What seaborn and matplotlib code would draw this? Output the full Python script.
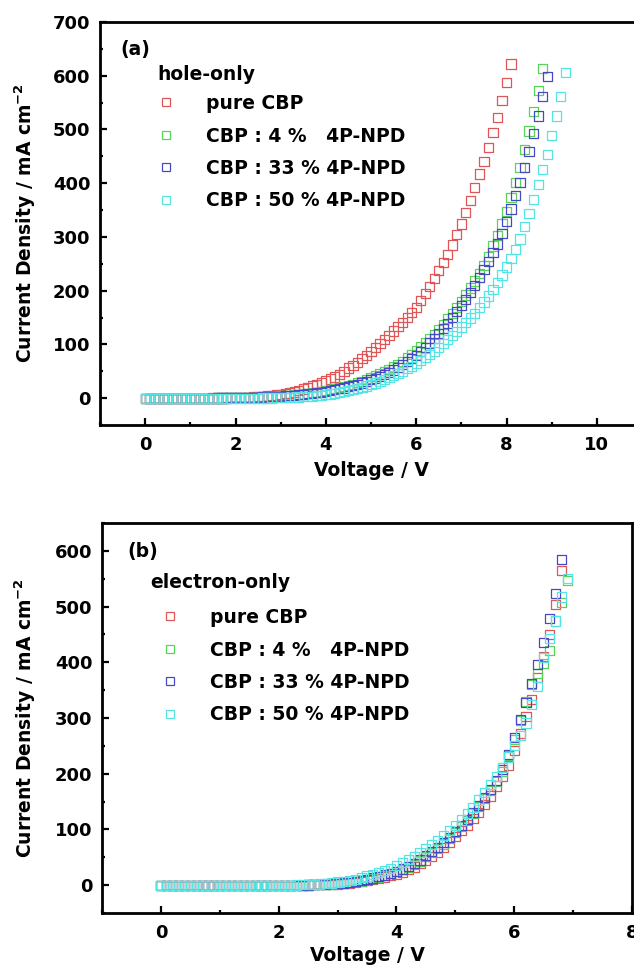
import matplotlib
matplotlib.use("Agg")
import matplotlib.pyplot as plt
import seaborn as sns
import pandas as pd
from matplotlib.lines import Line2D
from matplotlib.ticker import MultipleLocator

# ---------------- data ----------------
voltage = [0.0, 0.1, 0.2, 0.3, 0.4, 0.5, 0.6, 0.7, 0.8, 0.9,
           1.0, 1.1, 1.2, 1.3, 1.4, 1.5, 1.6, 1.7, 1.8, 1.9,
           2.0, 2.1, 2.2, 2.3, 2.4, 2.5, 2.6, 2.7, 2.8, 2.9,
           3.0, 3.1, 3.2, 3.3, 3.4, 3.5, 3.6, 3.7, 3.8, 3.9,
           4.0, 4.1, 4.2, 4.3, 4.4, 4.5, 4.6, 4.7, 4.8, 4.9,
           5.0, 5.1, 5.2, 5.3, 5.4, 5.5, 5.6, 5.7, 5.8, 5.9,
           6.0, 6.1, 6.2, 6.3, 6.4, 6.5, 6.6, 6.7, 6.8, 6.9,
           7.0, 7.1, 7.2, 7.3, 7.4, 7.5, 7.6, 7.7, 7.8, 7.9,
           8.0, 8.1, 8.2, 8.3, 8.4, 8.5, 8.6, 8.7, 8.8, 8.9,
           9.0, 9.1, 9.2, 9.3]

series_labels = ["pure CBP", "CBP : 4 %   4P-NPD", "CBP : 33 % 4P-NPD", "CBP : 50 % 4P-NPD"]
series_colors = ["#e05656", "#58d458", "#4848c4", "#55e4e4"]

# (a) hole-only devices, current density (mA cm^-2)
hole_pure = [0, 0, 0, 0, 0, 0, 0, 0, 0, 0, 0, 0, 0, 0, 0,
             0.2, 0.3, 0.4, 0.6, 0.8, 1.0,
             1.3, 1.6, 1.9, 2.2, 2.6, 3.2, 3.9, 4.7, 5.8, 7.0,
             8.2, 9.6, 11.5, 14, 17, 19.7, 22.5, 25.5, 28.6, 32,
             35.5, 39.5, 44, 50, 56, 61, 67, 73.5, 80, 87,
             94, 101, 108.5, 116.5, 125, 133, 141, 150, 159, 169,
             181, 194, 208, 222, 237, 252, 268, 285, 304, 324,
             346, 368, 392, 417, 441, 466, 494, 523, 554, 587, 622]
hole_4 = [0, 0, 0, 0, 0, 0, 0, 0, 0, 0, 0, 0, 0, 0, 0, 0,
          0.2, 0.3, 0.4, 0.5, 0.7,
          0.9, 1.1, 1.3, 1.6, 1.9, 2.2, 2.6, 3.0, 3.5, 4.0,
          4.6, 5.3, 6.0, 6.8, 7.7, 8.7, 9.8, 11, 12.4, 14,
          15.6, 17.4, 19.3, 21.4, 23.6, 26, 28.6, 31.4, 34.4, 37.6,
          41, 44.8, 48.8, 53.2, 58, 63, 68.5, 74.5, 81, 88,
          95, 102.5, 110.5, 119, 128, 137.5, 147.5, 158, 169, 180,
          192, 205, 218, 232, 247, 264, 283,
          303, 324, 347, 373, 401, 429, 462, 497, 533, 573, 614]
hole_33 = [0, 0, 0, 0, 0, 0, 0, 0, 0, 0, 0, 0, 0, 0, 0, 0,
           0.2, 0.3, 0.4, 0.5, 0.6,
           0.8, 1.0, 1.2, 1.4, 1.7, 2.0, 2.4, 2.8, 3.2, 3.7,
           4.2, 4.8, 5.5, 6.2, 7.0, 7.9, 8.9, 10, 11.2, 12.5,
           13.9, 15.5, 17.2, 19, 21, 23.2, 25.6, 28.2, 31, 34,
           37.2, 40.6, 44.3, 48.3, 52.5, 57, 62, 67.5, 73.5, 80,
           87, 94.5, 102.5, 111, 120, 129.5, 139.5, 150, 161, 172,
           184, 197, 210, 224, 239, 255, 271,
           287, 307, 328, 352, 377, 402, 429, 459, 492, 525, 561, 598]
hole_50 = [0, 0, 0, 0, 0, 0, 0, 0, 0, 0, 0, 0, 0, 0, 0, 0, 0, 0, 0, 0, 0, 0, 0, 0, 0, 0,
           0.2, 0.3, 0.4, 0.6, 0.8,
           1.0, 1.3, 1.6, 2.0, 2.5, 3.0, 3.7, 4.5, 5.4, 6.5,
           7.7, 9, 10.5, 12.1, 13.9, 15.8, 17.9, 20.2, 22.7, 25.4,
           28.3, 31.4, 34.7, 38.2, 42, 46, 50.2, 54.7, 59.4, 64.5,
           69.8, 75.4, 81.3, 87.5, 94, 101, 108.5, 116, 124, 132.5,
           140.5, 149, 158, 168, 179, 190, 202, 215, 229, 244, 260,
           277, 296, 319, 343, 370, 397, 426, 454, 489, 525, 562, 606]

# (b) electron-only devices
elec_pure = [0, 0, 0, 0, 0, 0, 0, 0, 0, 0, 0, 0, 0, 0, 0, 0, 0, 0, 0, 0, 0, 0, 0, 0, 0,
             0.3, 0.6, 0.9, 1.3, 1.7, 2.2,
             2.9, 3.8, 4.9, 6.3, 8.0, 9.9, 12, 14.5, 17, 20,
             23.5, 27.5, 32.5, 38.5, 45, 52, 59.5, 68, 77.5, 88,
             98, 108, 119, 131, 145, 160, 178, 196, 215, 242,
             272, 302, 333, 372, 410, 450, 504, 565]
elec_4 = [0, 0, 0, 0, 0, 0, 0, 0, 0, 0, 0, 0, 0, 0, 0, 0, 0, 0, 0, 0, 0, 0, 0, 0, 0,
          0.4, 0.7, 1.1, 1.6, 2.2, 2.9,
          3.7, 4.7, 6.0, 7.6, 9.8, 12.2, 14.7, 17.5, 20.6, 24,
          28, 32.5, 37.5, 43.5, 51, 58, 65.5, 74, 83.5, 94,
          105, 116, 128, 141, 155, 170, 186, 204, 232, 262,
          296, 330, 360, 380, 398, 421, 474, 507, 547]
elec_33 = [0, 0, 0, 0, 0, 0, 0, 0, 0, 0, 0, 0, 0, 0, 0, 0, 0, 0, 0, 0, 0, 0, 0, 0, 0,
           0.4, 0.8, 1.2, 1.7, 2.3, 3.0,
           3.9, 5.0, 6.3, 8.0, 10.5, 12.8, 15.3, 18.2, 21.4, 25,
           29, 33.5, 38.5, 45, 53, 60, 67.5, 76, 85.5, 96,
           107, 118, 130, 143, 157, 172, 188, 207, 235, 265,
           297, 328, 362, 396, 436, 479, 524, 584]
elec_50 = [0, 0, 0, 0, 0, 0, 0, 0, 0, 0, 0, 0, 0, 0, 0, 0, 0, 0, 0, 0, 0, 0, 0,
           0.3, 0.6, 1.0, 1.5, 2.2, 3.0, 4.0, 5.5,
           7, 8.7, 10.6, 13.2, 16.5, 19.5, 22.7, 26.3, 30.4, 35,
           40, 45.5, 51.5, 58.5, 66, 73, 80.5, 88.5, 97.5, 107,
           117, 128, 140, 153, 166, 180, 195, 211, 230, 250,
           268, 291, 324, 356, 409, 442, 474, 517, 551]

# ---------------- style ----------------
sns.set_theme(style="ticks")
plt.rcParams["font.family"] = ["DejaVu Sans"]
plt.rcParams["font.weight"] = "bold"
plt.rcParams["axes.labelweight"] = "bold"
plt.rcParams["mathtext.default"] = "bf"
for key in ["text.color", "axes.labelcolor", "xtick.color", "ytick.color",
            "axes.edgecolor", "xtick.labelcolor", "ytick.labelcolor"]:
    plt.rcParams[key] = "black"

W, H = 634, 969
fig = plt.figure(figsize=(W / 100, H / 100), dpi=100)


def fx(px):
    return px / W


def fy(py):
    return 1 - py / H


ax1 = fig.add_axes([fx(100), fy(425), (642 - 100) / W, (425 - 22) / H])
ax2 = fig.add_axes([fx(102), fy(913), (632 - 102) / W, (913 - 523) / H])


def draw(ax, series):
    for label, color, current in zip(series_labels, series_colors, series):
        df = pd.DataFrame({"Voltage": voltage[:len(current)], "Current": current})
        sns.scatterplot(data=df, x="Voltage", y="Current", ax=ax, marker="s",
                        s=44, color=color, legend=False, zorder=3)
        coll = ax.collections[-1]
        coll.set_facecolor("none")
        coll.set_edgecolor(color)
        coll.set_linewidth(0.9)


def style(ax, xlim, ylim, xmaj, ymaj):
    ax.set_xlim(*xlim)
    ax.set_ylim(*ylim)
    ax.xaxis.set_major_locator(MultipleLocator(xmaj))
    ax.xaxis.set_minor_locator(MultipleLocator(1))
    ax.yaxis.set_major_locator(MultipleLocator(ymaj))
    ax.yaxis.set_minor_locator(MultipleLocator(50))
    for sp in ax.spines.values():
        sp.set_linewidth(2.0)
        sp.set_color("black")
    ax.tick_params(which="major", direction="in", length=5, width=1.6,
                   labelsize=13, color="black", labelcolor="black")
    ax.tick_params(which="minor", direction="in", length=2.5, width=1.6, color="black")
    ax.tick_params(axis="x", pad=8)
    ax.tick_params(axis="y", pad=7)
    for t in ax.get_xticklabels() + ax.get_yticklabels():
        t.set_fontweight("bold")
    ax.set_xlabel("Voltage / V", fontsize=13.5, fontweight="bold", color="black")
    ax.set_ylabel("Current Density / mA cm$^{-2}$", fontsize=13.5,
                  fontweight="bold", color="black")


draw(ax1, [hole_pure, hole_4, hole_33, hole_50])
style(ax1, (-1, 11), (-50, 700), 2, 100)
draw(ax2, [elec_pure, elec_4, elec_33, elec_50])
style(ax2, (-1, 8), (-50, 650), 2, 100)

ax1.xaxis.set_label_coords((371 - 100) / 542, (425 - 461) / 403)
ax1.yaxis.set_label_coords((38 - 100) / 542, 0.5)
ax2.xaxis.set_label_coords((367 - 102) / 530, (913 - 946) / 390)
ax2.yaxis.set_label_coords((38 - 102) / 530, 0.5)


def legend(ax, x_left, y_top):
    handles = [Line2D([], [], ls="none", marker="s", ms=5.5, mfc="none",
                      mec=c, mew=0.9) for c in series_colors]
    leg = ax.legend(handles, series_labels, loc="upper left",
                    bbox_to_anchor=(fx(x_left), fy(y_top)), bbox_transform=fig.transFigure,
                    frameon=False, borderpad=0, borderaxespad=0, handlelength=1.0,
                    handletextpad=1.6, labelspacing=0.72,
                    prop={"weight": "bold", "size": 13.5})
    for t in leg.get_texts():
        t.set_color("black")


fig.text(fx(120), fy(49), "(a)", ha="left", va="center", fontsize=13.5,
         fontweight="bold", color="black")
fig.text(fx(157), fy(75), "hole-only", ha="left", va="center", fontsize=13.5,
         fontweight="bold", color="black")
legend(ax1, 157, 94)

fig.text(fx(127), fy(551), "(b)", ha="left", va="center", fontsize=13.5,
         fontweight="bold", color="black")
fig.text(fx(150), fy(583), "electron-only", ha="left", va="center", fontsize=13.5,
         fontweight="bold", color="black")
legend(ax2, 161, 608)

fig.savefig("out.png", dpi=100)
